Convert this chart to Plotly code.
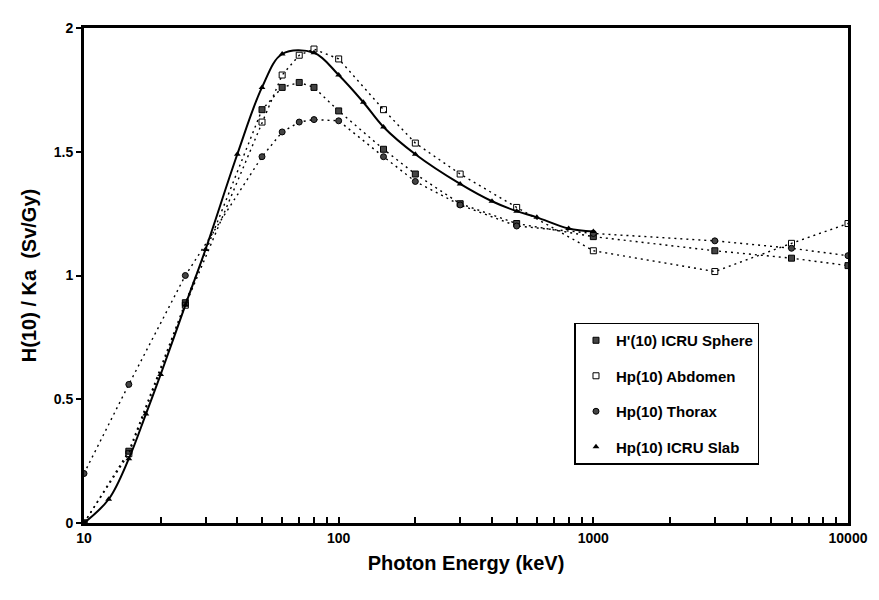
import plotly.graph_objects as go

# ---------------- data ----------------
slab_e = [10, 12.5, 15, 17.5, 20, 25, 30, 40, 50, 60, 80, 100, 125, 150, 200, 300, 400, 500, 600, 800, 1000]
slab_v = [0.0, 0.096, 0.26, 0.44, 0.60, 0.88, 1.105, 1.49, 1.76, 1.895, 1.90, 1.81, 1.70, 1.60, 1.49, 1.37, 1.30, 1.26, 1.235, 1.19, 1.178]

sphere_e = [10, 15, 25, 50, 60, 70, 80, 100, 150, 200, 300, 500, 1000, 3000, 6000, 10000]
sphere_v = [0.0, 0.29, 0.89, 1.67, 1.76, 1.78, 1.76, 1.665, 1.51, 1.41, 1.29, 1.21, 1.157, 1.10, 1.07, 1.04]

abdomen_e = [10, 15, 25, 50, 60, 70, 80, 100, 150, 200, 300, 500, 1000, 3000, 6000, 10000]
abdomen_v = [0.0, 0.28, 0.88, 1.62, 1.81, 1.89, 1.915, 1.875, 1.67, 1.535, 1.41, 1.275, 1.10, 1.016, 1.13, 1.21]

thorax_e = [10, 15, 25, 50, 60, 70, 80, 100, 150, 200, 300, 500, 1000, 3000, 6000, 10000]
thorax_v = [0.20, 0.56, 1.00, 1.48, 1.58, 1.62, 1.63, 1.625, 1.48, 1.38, 1.285, 1.20, 1.17, 1.14, 1.11, 1.08]

legend_names = ["H'(10) ICRU Sphere", "Hp(10) Abdomen", "Hp(10) Thorax", "Hp(10) ICRU Slab"]

x_decades = [10, 100, 1000, 10000]
x_tick_multipliers = [1, 2, 3, 4, 5, 6, 7, 8, 9]
y_tickvals = [0, 0.5, 1, 1.5, 2]
y_ticktext = ["0", "0.5", "1", "1.5", "2"]

# all log ticks (1..9 per decade); only decades get a label
x_tickvals = [d * m for d in x_decades[:-1] for m in x_tick_multipliers] + [x_decades[-1]]
x_ticktext = [str(v) if v in x_decades else "" for v in x_tickvals]

# ---------------- styles ----------------
FONT = "Liberation Sans"
sq_style = dict(symbol="square", size=6, color="#444", line=dict(color="black", width=1))
open_style = dict(symbol="square-open", size=6, color="black", line=dict(width=1))
circ_style = dict(symbol="circle", size=6, color="#444", line=dict(color="black", width=1))
tri_style = dict(symbol="triangle-up", size=6, color="black")

fig = go.Figure()

dot = dict(color="black", width=1.4, dash="2px,4px")
fig.add_trace(go.Scatter(x=sphere_e, y=sphere_v, mode="lines+markers", line=dot,
                         marker=sq_style, showlegend=False))
fig.add_trace(go.Scatter(x=abdomen_e, y=abdomen_v, mode="lines+markers", line=dot,
                         marker=open_style, showlegend=False))
fig.add_trace(go.Scatter(x=thorax_e, y=thorax_v, mode="lines+markers", line=dot,
                         marker=circ_style, showlegend=False))
fig.add_trace(go.Scatter(x=slab_e, y=slab_v, mode="lines+markers",
                         line=dict(color="black", width=2, shape="spline", smoothing=1.0),
                         marker=tri_style, showlegend=False))

# legend-only entries (markers only, as in the original)
for i, (name, st) in enumerate(zip(legend_names, [sq_style, open_style, circ_style, tri_style])):
    fig.add_trace(go.Scatter(x=[None], y=[None], mode="markers", marker=st, name=name,
                             legendgroup=f"g{i}", showlegend=True))

fig.update_layout(
    width=879, height=600,
    margin=dict(l=84, r=31, t=28, b=77),
    paper_bgcolor="white", plot_bgcolor="white",
    font=dict(family=FONT, size=13, color="black"),
    legend=dict(x=0.642, y=0.405, xanchor="left", yanchor="top",
                bordercolor="black", borderwidth=1.5, bgcolor="white",
                font=dict(family=FONT, size=15, color="black", weight="bold"),
                traceorder="grouped", tracegroupgap=13,
                itemwidth=30),
)

fig.update_xaxes(
    type="log", range=[1, 4],
    tickvals=x_tickvals, ticktext=x_ticktext,
    ticks="inside", ticklen=6, tickwidth=1.5, tickcolor="black",
    showline=True, linewidth=3, linecolor="black", mirror=True,
    showgrid=False, zeroline=False,
    tickfont=dict(family=FONT, size=14, weight="bold"),
    title=dict(text="Photon Energy (keV)", font=dict(family=FONT, size=20, weight="bold"), standoff=12),
)
fig.update_yaxes(
    range=[0, 2],
    tickvals=y_tickvals, ticktext=y_ticktext,
    ticks="outside", ticklen=5, tickwidth=1.5, tickcolor="black",
    showline=True, linewidth=3, linecolor="black", mirror=True,
    showgrid=False, zeroline=False,
    tickfont=dict(family=FONT, size=14, weight="bold"),
    title=dict(text="H(10) / Ka  (Sv/Gy)", font=dict(family=FONT, size=20, weight="bold"), standoff=12),
)

fig.write_html("out.html")
